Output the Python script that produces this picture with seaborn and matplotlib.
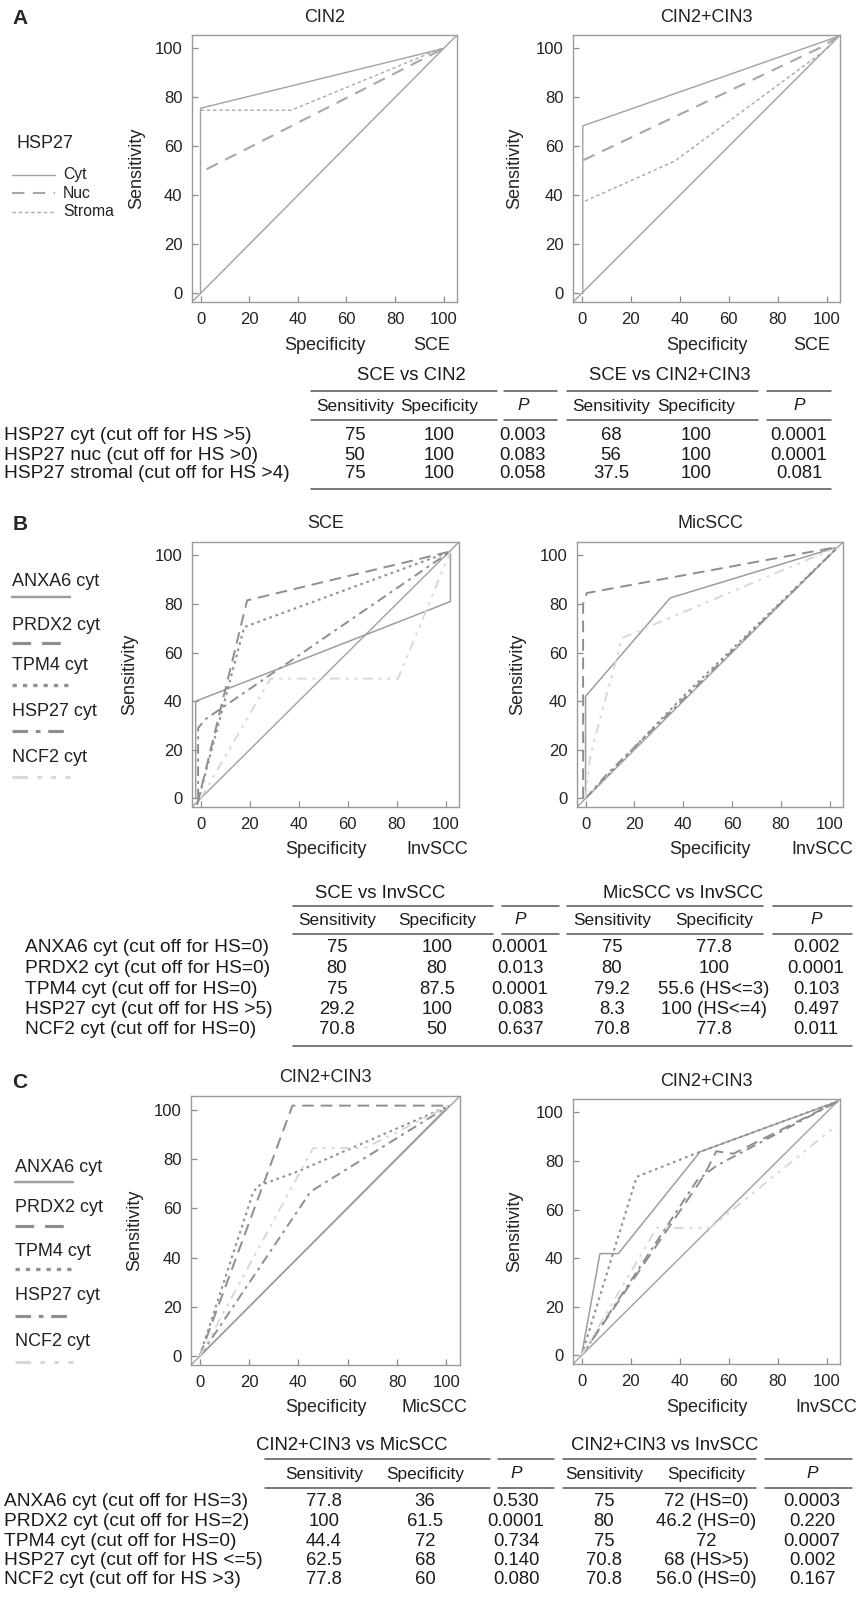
import matplotlib
matplotlib.use("Agg")
import matplotlib.pyplot as plt
import seaborn as sns
from matplotlib.lines import Line2D

W, H = 861, 1600

# ROC curves, x = 100 - specificity (%), y = sensitivity (%)
# panel A, left (CIN2 vs SCE)
a1_cyt_x = [0, 0, 100]
a1_cyt_y = [0, 75.6, 100]
a1_nuc_x = [2.5, 99]
a1_nuc_y = [50.7, 99.5]
a1_str_x = [0, 37.3, 99]
a1_str_y = [74.8, 74.8, 100]
# panel A, right (CIN2+CIN3 vs SCE)
a2_cyt_x = [0.5, 0.5, 105]
a2_cyt_y = [0, 68.4, 105]
a2_nuc_x = [0.7, 97.6, 105]
a2_nuc_y = [54.4, 100.4, 105]
a2_str_x = [1.4, 38, 100, 105]
a2_str_y = [37.7, 54, 99.7, 105]

# panel B, left (SCE vs InvSCC)
b1_anxa6_x = [-2, -2, 102, 102]
b1_anxa6_y = [0, 40, 81, 101.6]
b1_prdx2_x = [-1.4, 19, 102]
b1_prdx2_y = [-2.7, 81.5, 101.6]
b1_tpm4_x = [-1, 17.8, 102]
b1_tpm4_y = [-1, 70.5, 101.6]
b1_hsp27_x = [-1, -1, 2, 102]
b1_hsp27_y = [0, 29, 32.6, 101.6]
b1_ncf2_x = [0, 28.5, 80.6, 102]
b1_ncf2_y = [0, 49.3, 49.3, 101.6]
# panel B, right (MicSCC vs InvSCC)
b2_anxa6_x = [0, 0, 34.7, 103.5]
b2_anxa6_y = [0, 42, 82.5, 103.5]
b2_prdx2_x = [-1, -1, 0.5, 103.5]
b2_prdx2_y = [0, 80, 84.5, 103.5]
b2_tpm4_x = [0, 40, 103.5]
b2_tpm4_y = [0, 42, 103.5]
b2_hsp27_x = [0, 8.3, 103.5]
b2_hsp27_y = [0, 9.5, 103.5]
b2_ncf2_x = [0, 2, 15, 103.5]
b2_ncf2_y = [0, 18, 66, 103.5]

# panel C, left (CIN2+CIN3 vs MicSCC)
c1_anxa6_x = [0, 101]
c1_anxa6_y = [0, 101.5]
c1_prdx2_x = [0, 37.6, 100, 101]
c1_prdx2_y = [0, 101.6, 101.6, 101.5]
c1_tpm4_x = [0, 21.5, 23.5, 40, 101]
c1_tpm4_y = [0, 66, 69, 75, 101.5]
c1_hsp27_x = [0, 45, 101]
c1_hsp27_y = [0, 66.8, 101.5]
c1_ncf2_x = [0, 46, 67, 101]
c1_ncf2_y = [0, 84.4, 84.4, 101.5]
# panel C, right (CIN2+CIN3 vs InvSCC)
c2_anxa6_x = [0, 7.5, 15, 48.4, 104.5]
c2_anxa6_y = [0, 41.9, 41.9, 83.8, 104.5]
c2_tpm4_x = [0, 22.5, 48.4, 104.5]
c2_tpm4_y = [0, 73.5, 83.8, 104.5]
c2_prdx2_x = [0, 50, 55, 62, 104.5]
c2_prdx2_y = [0, 74, 84, 83, 104.5]
c2_hsp27_x = [0, 47, 55, 104.5]
c2_hsp27_y = [0, 71.8, 78, 104.5]
c2_ncf2_x = [0, 30.7, 52.5, 104]
c2_ncf2_y = [0, 52.5, 52.5, 94.6]

chance = [-4, 106]
ticks = [0, 20, 40, 60, 80, 100]

# tables
a_groups = ["SCE vs CIN2", "SCE vs CIN2+CIN3"]
a_labels = ["HSP27 cyt (cut off for HS >5)", "HSP27 nuc (cut off for HS >0)",
            "HSP27 stromal (cut off for HS >4)"]
a_vals = [["75", "100", "0.003", "68", "100", "0.0001"],
          ["50", "100", "0.083", "56", "100", "0.0001"],
          ["75", "100", "0.058", "37.5", "100", "0.081"]]

b_groups = ["SCE vs InvSCC", "MicSCC vs InvSCC"]
b_labels = ["ANXA6 cyt (cut off for HS=0)", "PRDX2 cyt (cut off for HS=0)",
            "TPM4 cyt (cut off for HS=0)", "HSP27 cyt (cut off for HS >5)",
            "NCF2 cyt (cut off for HS=0)"]
b_vals = [["75", "100", "0.0001", "75", "77.8", "0.002"],
          ["80", "80", "0.013", "80", "100", "0.0001"],
          ["75", "87.5", "0.0001", "79.2", "55.6 (HS<=3)", "0.103"],
          ["29.2", "100", "0.083", "8.3", "100 (HS<=4)", "0.497"],
          ["70.8", "50", "0.637", "70.8", "77.8", "0.011"]]

c_groups = ["CIN2+CIN3 vs MicSCC", "CIN2+CIN3 vs InvSCC"]
c_labels = ["ANXA6 cyt (cut off for HS=3)", "PRDX2 cyt (cut off for HS=2)",
            "TPM4 cyt (cut off for HS=0)", "HSP27 cyt (cut off for HS <=5)",
            "NCF2 cyt (cut off for HS >3)"]
c_vals = [["77.8", "36", "0.530", "75", "72 (HS=0)", "0.0003"],
          ["100", "61.5", "0.0001", "80", "46.2 (HS=0)", "0.220"],
          ["44.4", "72", "0.734", "75", "72", "0.0007"],
          ["62.5", "68", "0.140", "70.8", "68 (HS>5)", "0.002"],
          ["77.8", "60", "0.080", "70.8", "56.0 (HS=0)", "0.167"]]

col_heads = ["Sensitivity", "Specificity", "P", "Sensitivity", "Specificity", "P"]

hsp_names = ["Cyt", "Nuc", "Stroma"]
marker_names = ["ANXA6 cyt", "PRDX2 cyt", "TPM4 cyt", "HSP27 cyt", "NCF2 cyt"]

styles = {
    "Cyt": dict(color="#a2a2a2", lw=1.0, ls="-"),
    "Nuc": dict(color="#a8a8a8", lw=1.5, ls=(0, (6, 4))),
    "Stroma": dict(color="#a8a8a8", lw=1.0, ls=(0, (2.5, 2))),
    "ANXA6 cyt": dict(color="#9d9d9d", lw=1.1, ls="-"),
    "PRDX2 cyt": dict(color="#8e8e8e", lw=1.4, ls=(0, (6, 3.5))),
    "TPM4 cyt": dict(color="#929292", lw=1.5, ls=(0, (1.3, 1.8))),
    "HSP27 cyt": dict(color="#8e8e8e", lw=1.4, ls=(0, (5, 2.5, 1.5, 2.5))),
    "NCF2 cyt": dict(color="#d8d8d8", lw=1.4, ls=(0, (5, 3, 1.5, 3, 1.5, 3))),
}

sns.set_theme(style="white")
plt.rcParams["font.family"] = ["Liberation Sans", "DejaVu Sans"]

fig = plt.figure(figsize=(W / 100, H / 100), dpi=100)
fig.patch.set_facecolor("white")

# overlay in pixel coordinates for legends and tables
ov = fig.add_axes([0, 0, 1, 1])
ov.set_xlim(0, W)
ov.set_ylim(H, 0)
ov.set_axis_off()


def roc_panel(box, title, right_lab, ylab_x, curves):
    l, t, r, b = box
    ax = fig.add_axes([l / W, 1 - b / H, (r - l) / W, (b - t) / H])
    sns.lineplot(x=chance, y=chance, ax=ax, sort=False, estimator=None,
                 color="#a0a0a0", linewidth=1.0)
    for xs, ys, key in curves:
        st = styles[key]
        sns.lineplot(x=xs, y=ys, ax=ax, sort=False, estimator=None,
                     color=st["color"], linewidth=st["lw"], linestyle=st["ls"])
    ax.set_xlim(-3.5, 105.5)
    ax.set_ylim(-3.5, 105.5)
    ax.set_xticks(ticks)
    ax.set_yticks(ticks)
    ax.tick_params(direction="in", length=4, width=0.9, color="#8a8a8a",
                   labelsize=12, labelcolor="#222222", pad=7,
                   bottom=True, left=True)
    for s in ax.spines.values():
        s.set_color("#9a9a9a")
        s.set_linewidth(1.0)
    ax.set_xlabel("")
    ax.set_ylabel("Sensitivity", fontsize=13, color="#222222")
    # label anchor is its right edge, so shift by half its height
    ax.yaxis.set_label_coords((ylab_x + 8 - l) / (r - l), 0.5)
    cx = (l + r) / 2
    ov.text(cx, t - 18, title, ha="center", va="center", fontsize=13, color="#222222")
    ov.text(cx, b + 43, "Specificity", ha="center", va="center", fontsize=13, color="#222222")
    ov.text(right_lab[1], b + 43, right_lab[0], ha="center", va="center",
            fontsize=13, color="#222222")
    return ax


def draw_table(groups, labels, vals, geo):
    c = "#555555"
    tc = "#1a1a1a"
    ty, uy, hy, hy2, row0, dy, by = geo["ys"]
    for g, gx in zip(groups, geo["title_x"]):
        ov.text(gx, ty, g, ha="center", va="center", fontsize=13.3, color=tc)
    for (x0, x1) in geo["spans"]:
        ov.add_line(Line2D([x0, x1], [uy, uy], color=c, lw=1.1))
        ov.add_line(Line2D([x0, x1], [hy2, hy2], color=c, lw=1.1))
    for h, cx in zip(col_heads, geo["cols"]):
        ov.text(cx, hy, h, ha="center", va="center", fontsize=12.4, color=tc,
                style="italic" if h == "P" else "normal")
    for i, (lab, row) in enumerate(zip(labels, vals)):
        y = row0 + i * dy
        ov.text(geo["label_x"], y, lab, ha="left", va="center", fontsize=13.8, color=tc)
        for v, cx in zip(row, geo["cols"]):
            ov.text(cx, y, v, ha="center", va="center", fontsize=13.3, color=tc)
    if by is not None:
        ov.add_line(Line2D(geo["bottom"], [by, by], color=c, lw=1.1))


def legend_block(x, entries, text_ys, line_ys, lw_scale=1.6, length=58):
    for name, ty, ly in zip(entries, text_ys, line_ys):
        st = styles[name]
        ov.text(x, ty, name, ha="left", va="center", fontsize=13, color="#222222")
        ov.add_line(Line2D([x, x + length], [ly, ly], color=st["color"],
                           lw=st["lw"] * lw_scale, linestyle=st["ls"]))


# ---------------- panel A ----------------
ov.text(20, 18, "A", ha="center", va="center", fontsize=15, fontweight="bold")
roc_panel((192, 35, 457, 302), "CIN2", ("SCE", 432), 137,
          [(a1_cyt_x, a1_cyt_y, "Cyt"), (a1_nuc_x, a1_nuc_y, "Nuc"),
           (a1_str_x, a1_str_y, "Stroma")])
roc_panel((573, 35, 840, 302), "CIN2+CIN3", ("SCE", 812), 515,
          [(a2_cyt_x, a2_cyt_y, "Cyt"), (a2_nuc_x, a2_nuc_y, "Nuc"),
           (a2_str_x, a2_str_y, "Stroma")])
ov.text(17, 144, "HSP27", ha="left", va="center", fontsize=13, color="#222222")
for name, y in zip(hsp_names, [175, 193, 212]):
    st = styles[name]
    ov.text(63, y, name, ha="left", va="center", fontsize=11.3, color="#222222")
    ov.add_line(Line2D([12, 55], [y, y], color=st["color"], lw=st["lw"],
                       linestyle=st["ls"]))

draw_table(a_groups, a_labels, a_vals, dict(
    ys=(375, 391, 406, 420, 436, 19, 489),
    title_x=[411, 670], cols=[355, 439, 523, 611, 696, 799], label_x=4,
    spans=[(311, 497), (504, 557), (567, 758), (767, 831)], bottom=[311, 831]))

# ---------------- panel B ----------------
ov.text(20, 525, "B", ha="center", va="center", fontsize=15, fontweight="bold")
roc_panel((192, 542, 459, 807), "SCE", ("InvSCC", 437), 130,
          [(b1_anxa6_x, b1_anxa6_y, "ANXA6 cyt"), (b1_prdx2_x, b1_prdx2_y, "PRDX2 cyt"),
           (b1_tpm4_x, b1_tpm4_y, "TPM4 cyt"), (b1_hsp27_x, b1_hsp27_y, "HSP27 cyt"),
           (b1_ncf2_x, b1_ncf2_y, "NCF2 cyt")])
roc_panel((577, 542, 843, 807), "MicSCC", ("InvSCC", 822), 518,
          [(b2_anxa6_x, b2_anxa6_y, "ANXA6 cyt"), (b2_prdx2_x, b2_prdx2_y, "PRDX2 cyt"),
           (b2_tpm4_x, b2_tpm4_y, "TPM4 cyt"), (b2_hsp27_x, b2_hsp27_y, "HSP27 cyt"),
           (b2_ncf2_x, b2_ncf2_y, "NCF2 cyt")])
legend_block(12, marker_names, [582, 625, 665, 712, 757], [597, 643, 685, 731, 777])

draw_table(b_groups, b_labels, b_vals, dict(
    ys=(893, 906, 920, 934, 948, 20.5, 1046),
    title_x=[380, 683], cols=[337, 437, 520, 612, 714, 816], label_x=25,
    spans=[(293, 493), (502, 559), (567, 763), (773, 852)], bottom=[293, 852]))

# ---------------- panel C ----------------
ov.text(20, 1082, "C", ha="center", va="center", fontsize=15, fontweight="bold")
roc_panel((191, 1096, 460, 1365), "CIN2+CIN3", ("MicSCC", 434), 135,
          [(c1_anxa6_x, c1_anxa6_y, "ANXA6 cyt"), (c1_prdx2_x, c1_prdx2_y, "PRDX2 cyt"),
           (c1_tpm4_x, c1_tpm4_y, "TPM4 cyt"), (c1_hsp27_x, c1_hsp27_y, "HSP27 cyt"),
           (c1_ncf2_x, c1_ncf2_y, "NCF2 cyt")])
roc_panel((573, 1099, 840, 1364), "CIN2+CIN3", ("InvSCC", 826), 515,
          [(c2_anxa6_x, c2_anxa6_y, "ANXA6 cyt"), (c2_prdx2_x, c2_prdx2_y, "PRDX2 cyt"),
           (c2_tpm4_x, c2_tpm4_y, "TPM4 cyt"), (c2_hsp27_x, c2_hsp27_y, "HSP27 cyt"),
           (c2_ncf2_x, c2_ncf2_y, "NCF2 cyt")])
legend_block(15, marker_names, [1167, 1208, 1252, 1295, 1341], [1182, 1226, 1269, 1316, 1362])

draw_table(c_groups, c_labels, c_vals, dict(
    ys=(1445, 1459, 1474, 1488, 1502, 19.5, None),
    title_x=[352, 665], cols=[324, 425, 516, 604, 706, 812], label_x=4,
    spans=[(265, 490), (498, 554), (563, 756), (765, 852)], bottom=None))

fig.savefig("out.png", dpi=100, facecolor="white")
